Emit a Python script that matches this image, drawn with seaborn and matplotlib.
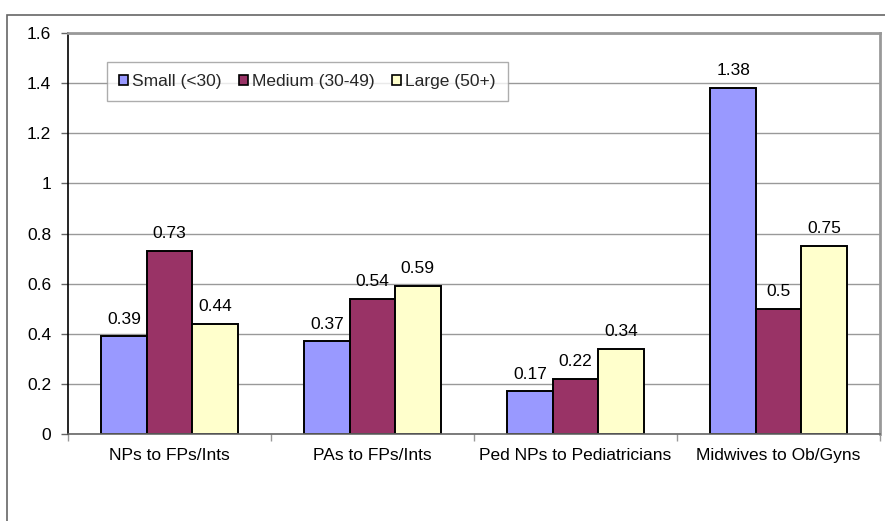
import matplotlib
matplotlib.use("Agg")
import matplotlib.pyplot as plt
import seaborn as sns
import pandas as pd
from matplotlib.patches import Rectangle

# data
categories = ["NPs to FPs/Ints", "PAs to FPs/Ints", "Ped NPs to Pediatricians", "Midwives to Ob/Gyns"]
sizes = ["Small (<30)", "Medium (30-49)", "Large (50+)"]
small = [0.39, 0.37, 0.17, 1.38]
medium = [0.73, 0.54, 0.22, 0.5]
large = [0.44, 0.59, 0.34, 0.75]
colors = ["#9999FF", "#993366", "#FFFFCC"]

rows = []
for size, vals in zip(sizes, [small, medium, large]):
    for cat, v in zip(categories, vals):
        rows.append({"category": cat, "size": size, "value": v})
df = pd.DataFrame(rows)

sns.set_theme(style="white")
plt.rcParams['font.family'] = ['Liberation Sans', 'DejaVu Sans']
fs = 12.5

fig = plt.figure(figsize=(8.85, 5.21), dpi=100)
ax = fig.add_axes([68/885, 1 - 434/521, 812/885, 401/521])

sns.barplot(data=df, x="category", y="value", hue="size", order=categories,
            hue_order=sizes, palette=colors, edgecolor="black", linewidth=1.4,
            width=0.67, gap=0, saturation=1, ax=ax, legend=True)

for cont in ax.containers:
    ax.bar_label(cont, labels=[f"{b.get_height():g}" for b in cont],
                 padding=7, fontsize=fs, color="black")

ax.set_ylim(0, 1.6)
ax.set_xlim(-0.5, 3.5)
ax.set_yticks([0, 0.2, 0.4, 0.6, 0.8, 1, 1.2, 1.4, 1.6])
ax.set_yticklabels(["0", "0.2", "0.4", "0.6", "0.8", "1", "1.2", "1.4", "1.6"])
ax.yaxis.grid(True, color="#999999", linewidth=1)
ax.set_axisbelow(True)
ax.set_xlabel("")
ax.set_ylabel("")

# ticks between categories, labels centred
ax.set_xticks([-0.5, 0.5, 1.5, 2.5, 3.5], minor=True)
ax.tick_params(axis="x", which="major", length=0, labelsize=fs, pad=10, colors="black")
ax.tick_params(axis="x", which="minor", length=5, width=1, color="#999999", bottom=True)
ax.tick_params(axis="y", length=5, width=1, left=True, labelsize=fs, pad=7, colors="black")
ax.tick_params(axis="y", color="#666666")

for side in ["top", "right"]:
    ax.spines[side].set_color("#999999")
    ax.spines[side].set_linewidth(2)
ax.spines["left"].set_color("black")
ax.spines["left"].set_linewidth(1.2)
ax.spines["bottom"].set_color("#666666")
ax.spines["bottom"].set_linewidth(1.2)

leg = ax.legend(loc="upper left", bbox_to_anchor=(0.048, 0.928), borderaxespad=0,
                ncol=3, frameon=True, fancybox=False, edgecolor="#999999",
                fontsize=fs, handlelength=0.5, handleheight=0.5, handletextpad=0.25,
                columnspacing=1.0, borderpad=0.7)
leg.get_frame().set_linewidth(1)
for h in leg.legend_handles:
    h.set_edgecolor("black")
    h.set_linewidth(1.2)

# outer chart frame
fig.patches.append(Rectangle((7/885, -0.1), 1.1, 1 - 15/521 + 0.1, transform=fig.transFigure,
                             fill=False, edgecolor="#666666", linewidth=1.2))

fig.savefig("out.png", dpi=100)
